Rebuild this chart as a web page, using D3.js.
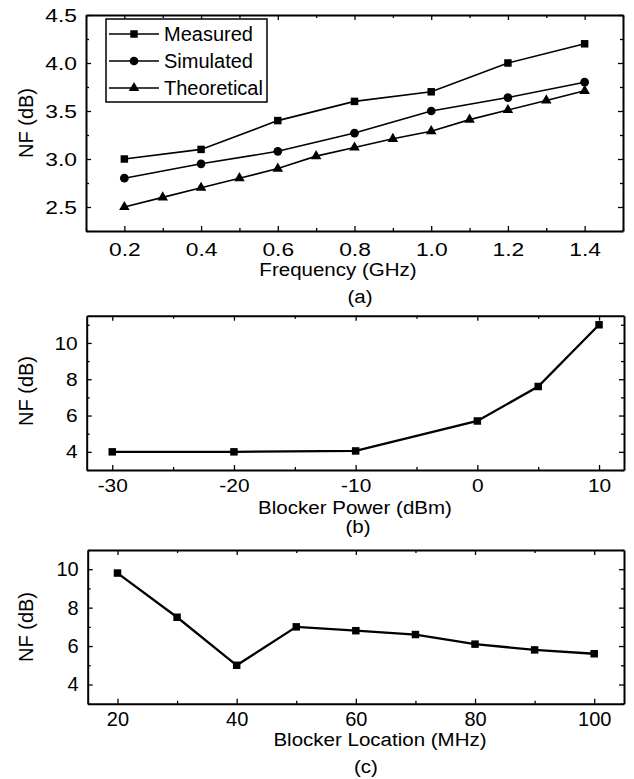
<!DOCTYPE html>
<html>
<head>
<meta charset="utf-8">
<script src="https://cdn.jsdelivr.net/npm/d3@7"></script>
<style>
  body { margin: 0; background: #fff; }
  text { font-family: "Liberation Sans", Arial, sans-serif; fill: #000; }
</style>
</head>
<body>
<div id="chart"></div>
<script>
// (a) NF vs frequency
const freqGHz = [0.2, 0.4, 0.6, 0.8, 1.0, 1.2, 1.4];
const measuredNF = [3.0, 3.1, 3.4, 3.6, 3.7, 4.0, 4.2];
const simulatedNF = [2.8, 2.95, 3.08, 3.27, 3.5, 3.64, 3.8];
const theoFreqGHz = [0.2, 0.3, 0.4, 0.5, 0.6, 0.7, 0.8, 0.9, 1.0, 1.1, 1.2, 1.3, 1.4];
const theoreticalNF = [2.5, 2.6, 2.7, 2.8, 2.9, 3.03, 3.12, 3.21, 3.29, 3.41, 3.51, 3.61, 3.71];
const aXTicks = [0.2, 0.4, 0.6, 0.8, 1.0, 1.2, 1.4];
const aXMinor = [0.1, 0.3, 0.5, 0.7, 0.9, 1.1, 1.3, 1.5];
const aYTicks = [2.5, 3.0, 3.5, 4.0, 4.5];
const aYMinor = [2.25, 2.75, 3.25, 3.75, 4.25];

// (b) NF vs blocker power
const blockerPower = [-30, -20, -10, 0, 5, 10];
const nfVsPower = [4.0, 4.0, 4.05, 5.7, 7.6, 11.0];
const bXTicks = [-30, -20, -10, 0, 10];
const bXMinor = [-25, -15, -5, 5];
const bYTicks = [4, 6, 8, 10];
const bYMinor = [3, 5, 7, 9, 11];

// (c) NF vs blocker location
const blockerLoc = [20, 30, 40, 50, 60, 70, 80, 90, 100];
const nfVsLoc = [9.8, 7.5, 5.0, 7.0, 6.8, 6.6, 6.1, 5.8, 5.6];
const cXTicks = [20, 40, 60, 80, 100];
const cXMinor = [30, 50, 70, 90];
const cYTicks = [4, 6, 8, 10];
const cYMinor = [3, 5, 7, 9, 11];

const W = 634, H = 779;
const svg = d3.select("#chart").append("svg")
    .attr("width", W).attr("height", H);

function drawFrame(x, y, opt) {
    const g = svg.append("g");
    const [x0, x1] = x.range();
    const [y0, y1] = y.range();   // y0 = bottom, y1 = top
    const sx = opt.sx;

    // major + minor ticks, pointing into the plot, on all four sides
    const sides = [
        { ax: d3.axisBottom(x), tr: `translate(0,${y0})`, lab: true },
        { ax: d3.axisTop(x), tr: `translate(0,${y1})`, lab: false },
        { ax: d3.axisLeft(y), tr: `translate(${x0},0)`, lab: true },
        { ax: d3.axisRight(y), tr: `translate(${x1},0)`, lab: false }
    ];
    sides.forEach((s, i) => {
        const horiz = i < 2;
        const major = horiz ? opt.xTicks : opt.yTicks;
        const minor = horiz ? opt.xMinor : opt.yMinor;
        const gm = g.append("g").attr("transform", s.tr)
            .call(s.ax.tickValues(minor).tickSizeInner(-3).tickSizeOuter(0).tickFormat(""));
        gm.select(".domain").remove();
        const ga = g.append("g").attr("transform", s.tr)
            .call(s.ax.tickValues(major).tickSizeInner(-5).tickSizeOuter(0)
                .tickPadding(horiz ? opt.xPad : opt.yPad)
                .tickFormat(s.lab ? (horiz ? opt.xFmt : opt.yFmt) : ""));
        ga.selectAll(".domain").attr("stroke-width", 2);
        ga.selectAll("text")
            .style("font-size", opt.tickSize + "px")
            .style("font-family", '"Liberation Sans", Arial, sans-serif');
        if (s.lab) {
            if (horiz) {
                ga.selectAll("text").attr("transform", `scale(${sx},1)`);
            } else {
                ga.selectAll("text")
                    .attr("x", -opt.yPad / sx)
                    .attr("transform", `scale(${sx},1)`);
            }
        }
        g.selectAll(".tick line").attr("stroke", "#000").attr("stroke-width", 1.3);
    });

    // titles
    g.append("text")
        .attr("transform", `translate(${opt.xTitleX},${opt.xTitleY}) scale(1.08,1)`)
        .attr("text-anchor", "middle")
        .style("font-size", "19px")
        .text(opt.xTitle);
    g.append("text")
        .attr("transform", `translate(33,${opt.yTitleY}) rotate(-90)`)
        .attr("text-anchor", "middle")
        .style("font-size", "20px")
        .text("NF (dB)");
    g.append("text")
        .attr("transform", `translate(${opt.capX},${opt.capY}) scale(1.08,1)`)
        .attr("text-anchor", "middle")
        .style("font-size", "19px")
        .text(opt.caption);
    return g;
}

function drawSeries(xs, ys, x, y, shape, lineW, size) {
    const pts = xs.map((v, i) => [x(v), y(ys[i])]);
    svg.append("path")
        .attr("d", d3.line()(pts))
        .attr("fill", "none")
        .attr("stroke", "#000")
        .attr("stroke-width", lineW);
    svg.append("g").selectAll("path")
        .data(pts)
        .join("path")
        .attr("transform", d => `translate(${d[0]},${d[1]})`)
        .attr("d", d3.symbol().type(shape).size(size))
        .attr("fill", "#000");
}

// ---------- panel (a)
const xa = d3.scaleLinear().domain([0.1, 1.5]).range([86, 623]);
const ya = d3.scaleLinear().domain([2.25, 4.5]).range([231, 15]);
drawFrame(xa, ya, {
    xTicks: aXTicks, xMinor: aXMinor, yTicks: aYTicks, yMinor: aYMinor,
    xFmt: d3.format(".1f"), yFmt: d3.format(".1f"),
    xPad: 12, yPad: 9, tickSize: 19, sx: 1.2,
    xTitle: "Frequency (GHz)", xTitleX: 338, xTitleY: 276,
    yTitleY: 123, caption: "(a)", capX: 360, capY: 303
});

const seriesA = [
    { name: "Measured", xs: freqGHz, ys: measuredNF, shape: d3.symbolSquare, size: 56 },
    { name: "Simulated", xs: freqGHz, ys: simulatedNF, shape: d3.symbolCircle, size: 60 },
    { name: "Theoretical", xs: theoFreqGHz, ys: theoreticalNF, shape: d3.symbolTriangle, size: 48 }
];
seriesA.forEach(s => drawSeries(s.xs, s.ys, xa, ya, s.shape, 1.6, s.size));

// legend
const leg = svg.append("g");
leg.append("rect")
    .attr("x", 106).attr("y", 19).attr("width", 161).attr("height", 83)
    .attr("fill", "#fff").attr("stroke", "#000").attr("stroke-width", 1.5);
seriesA.forEach((s, i) => {
    const cy = 34 + i * 27;
    leg.append("line")
        .attr("x1", 109).attr("x2", 159).attr("y1", cy).attr("y2", cy)
        .attr("stroke", "#000").attr("stroke-width", 1.6);
    leg.append("path")
        .attr("transform", `translate(134,${cy})`)
        .attr("d", d3.symbol().type(s.shape).size(s.size))
        .attr("fill", "#000");
    leg.append("text")
        .attr("x", 164).attr("y", cy + 7)
        .style("font-size", "20px")
        .text(s.name);
});

// ---------- panel (b)
const xb = d3.scaleLinear().domain([-32.1, 12.05]).range([86.7, 624]);
const yb = d3.scaleLinear().domain([3, 11.5]).range([470, 315.7]);
drawFrame(xb, yb, {
    xTicks: bXTicks, xMinor: bXMinor, yTicks: bYTicks, yMinor: bYMinor,
    xFmt: d => String(d), yFmt: d => String(d),
    xPad: 9, yPad: 9, tickSize: 19, sx: 1.1,
    xTitle: "Blocker Power (dBm)", xTitleX: 355, xTitleY: 514,
    yTitleY: 391, caption: "(b)", capX: 358, capY: 533
});
drawSeries(blockerPower, nfVsPower, xb, yb, d3.symbolSquare, 2.3, 56);

// ---------- panel (c)
const xc = d3.scaleLinear().domain([15, 105]).range([87.7, 624]);
const yc = d3.scaleLinear().domain([3, 11]).range([703.7, 550]);
drawFrame(xc, yc, {
    xTicks: cXTicks, xMinor: cXMinor, yTicks: cYTicks, yMinor: cYMinor,
    xFmt: d => String(d), yFmt: d => String(d),
    xPad: 8, yPad: 9, tickSize: 20, sx: 1.0,
    xTitle: "Blocker Location (MHz)", xTitleX: 380, xTitleY: 746,
    yTitleY: 627, caption: "(c)", capX: 366, capY: 773
});
drawSeries(blockerLoc, nfVsLoc, xc, yc, d3.symbolSquare, 2.3, 56);
</script>
</body>
</html>
